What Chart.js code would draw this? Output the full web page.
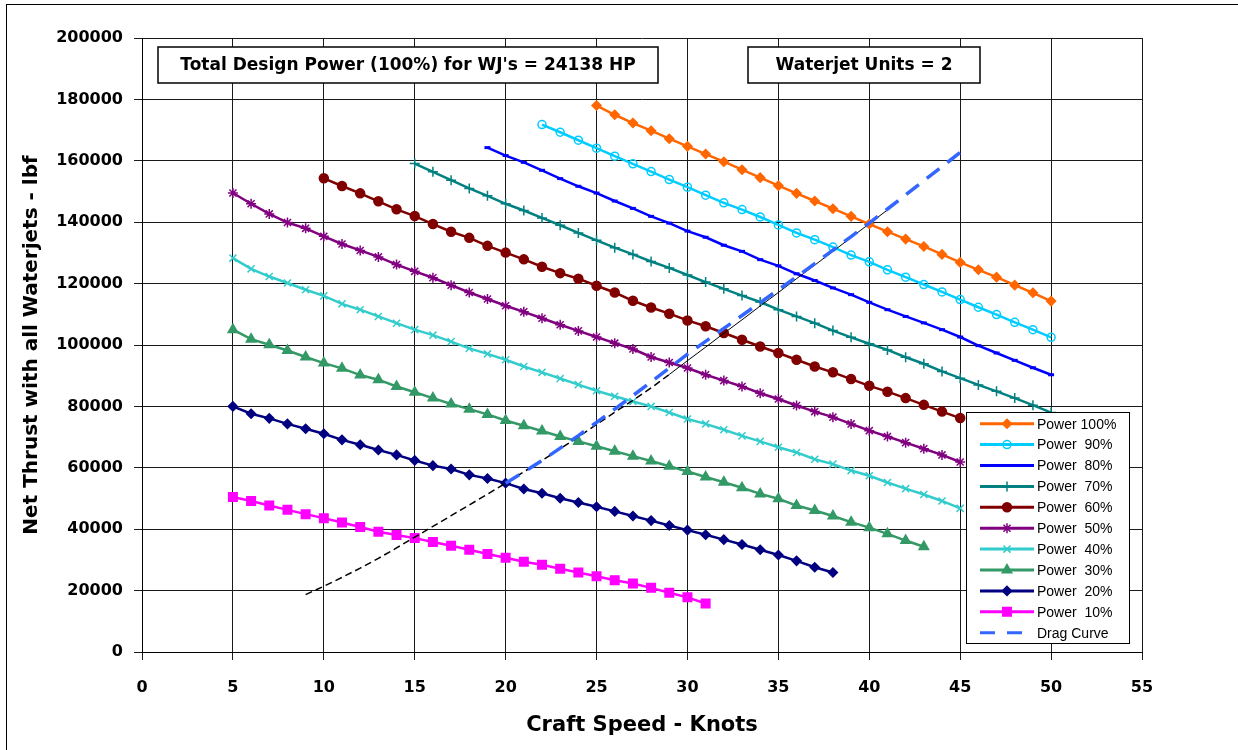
<!DOCTYPE html>
<html>
<head>
<meta charset="utf-8">
<script src="https://cdn.jsdelivr.net/npm/chart.js@4.4.1/dist/chart.umd.min.js"></script>
<style>
  html, body { margin: 0; padding: 0; background: #fff; }
  #wrap { position: relative; width: 1238px; height: 750px; }
</style>
</head>
<body>
<div id="wrap"><canvas id="grafico" width="1238" height="750"></canvas></div>
<script>
// Thrust (lbf) per knot, each series starts at its first speed
const p100Start = 25;
const p100 = [178000, 175000, 172300, 169800, 167200, 164700, 162200, 159700, 157100, 154500,
  151900, 149400, 146900, 144400, 141900, 139400, 136900, 134500, 132100, 129500,
  126900, 124500, 122100, 119500, 117000, 114300];

const p90Start = 22;
const p90 = [171800, 169300, 166700, 164100, 161500, 159000, 156500, 153900, 151400, 148800,
  146300, 144100, 141700, 139100, 136500, 134300, 131900, 129300, 127100, 124500,
  122100, 119700, 117300, 114800, 112300, 109900, 107400, 105000, 102500];

const p80Start = 19;
const p80 = [164300, 161700, 159500, 156900, 154200, 151700, 149500, 146900, 144500, 141900,
  139700, 137100, 135100, 132500, 130500, 127800, 125800, 123200, 121000, 118600,
  116400, 113900, 111500, 109300, 107200, 105000, 102600, 99800, 97400, 95000,
  92600, 90300];

const p70Start = 15;
const p70 = [159100, 156400, 153700, 151000, 148600, 146000, 143800, 141400, 139000, 136500,
  134100, 131700, 129500, 127200, 125100, 122800, 120500, 118300, 116100, 114000,
  111500, 109300, 107100, 104700, 102500, 100400, 98400, 96000, 93900, 91400,
  89200, 87000, 84900, 82700, 80400, 78000];

const p60Start = 10;
const p60 = [154300, 151800, 149400, 146800, 144200, 142000, 139400, 136900, 134900, 132300,
  130100, 127900, 125500, 123400, 121600, 119300, 117100, 114400, 112200, 110200,
  108000, 106100, 103900, 101700, 99500, 97400, 95200, 93000, 91100, 88900,
  86700, 84800, 82700, 80500, 78300, 76200];

const p50Start = 5;
const p50 = [149500, 146000, 142700, 139900, 138000, 135400, 132900, 130800, 128700, 126200,
  124000, 121900, 119500, 117100, 115000, 112800, 110800, 108700, 106600, 104600,
  102600, 100600, 98700, 96100, 94300, 92500, 90300, 88400, 86500, 84300,
  82400, 80300, 78300, 76500, 74300, 72100, 70200, 68200, 66200, 64200, 61900];

const p40Start = 5;
const p40 = [128300, 124800, 122300, 120200, 118000, 116000, 113400, 111500, 109300, 107100,
  105000, 103200, 101100, 98900, 97100, 95200, 93000, 91100, 89100, 87100,
  85100, 83300, 81600, 80000, 78000, 75900, 74300, 72400, 70400, 68600,
  66700, 65000, 62800, 61200, 59100, 57400, 55200, 53200, 51300, 49200, 46800];

const p30Start = 5;
const p30 = [105000, 101900, 100100, 98200, 96100, 94100, 92400, 90200, 88700, 86500,
  84600, 82700, 80800, 79100, 77400, 75400, 73700, 72000, 70200, 68600,
  67000, 65400, 63800, 62200, 60500, 58800, 57000, 55300, 53500, 51500,
  49900, 47700, 46100, 44300, 42300, 40500, 38500, 36300, 34300];

const p20Start = 5;
const p20 = [80000, 77600, 76100, 74300, 72700, 71100, 69100, 67500, 65800, 64200,
  62400, 60700, 59600, 57700, 56500, 55000, 53100, 51700, 50100, 48700,
  47300, 45800, 44300, 42800, 41200, 39700, 38200, 36600, 35000, 33300,
  31600, 29700, 27600, 25900];

const p10Start = 5;
const p10 = [50500, 49200, 47700, 46300, 44900, 43600, 42200, 40700, 39200, 38100,
  37100, 35800, 34600, 33300, 31900, 30700, 29400, 28400, 27100, 25900,
  24700, 23400, 22300, 20900, 19300, 17800, 15800];

const dragStart = 20;
const drag = [55000, 58600, 62400, 66400, 70500, 74800, 79100, 83500, 88000, 92500,
  97000, 101200, 105400, 109600, 113800, 118000, 122200, 126500, 130900, 135300,
  139700, 144300, 148900, 153500, 158100, 162700];

// black resistance line: dashed lower part, thin solid upper part
const resistStart = 9;
const resist = [18700, 21400, 24300, 27300, 30500, 33900, 37400, 40900, 44400, 47900,
  51400, 55000, 58700, 62400, 66200, 70100, 74100, 78100, 82000, 86000, 90400];
const resistUpStart = 29;
const resistUp = [90400, 94900, 99300, 103800, 108200, 112700, 117100, 121600, 126000,
  130500, 135000, 139500, 144000];

const xTicks = { min: 0, max: 55, step: 5 };
const yTicks = { min: 0, max: 200000, step: 20000 };

const txtPower = "Total Design Power (100%) for WJ's = 24138 HP";
const txtUnits = 'Waterjet Units = 2';

const fonteNegrito = 'DejaVu Sans';

function pontos(start, values) {
  return values.map((v, i) => ({ x: start + i, y: v }));
}

function serie(label, start, values, cor, estilo, raio, extra) {
  return Object.assign({
    label: label,
    data: pontos(start, values),
    borderColor: cor,
    backgroundColor: cor,
    borderWidth: 2.5,
    pointStyle: estilo,
    pointRadius: raio,
    pointBorderWidth: 1.5,
    pointBackgroundColor: cor,
    pointBorderColor: cor,
    tension: 0,
    order: 2,
    legenda: true
  }, extra || {});
}

const datasets = [
  serie('Power 100%', p100Start, p100, '#FF6600', 'rectRot', 4.5),
  serie('Power  90%', p90Start, p90, '#00CCFF', 'circle', 4, { pointBackgroundColor: 'rgba(0,0,0,0)' }),
  serie('Power  80%', p80Start, p80, '#0000FF', 'line', 3, { pointBorderWidth: 3 }),
  serie('Power  70%', p70Start, p70, '#008080', 'cross', 5),
  serie('Power  60%', p60Start, p60, '#800000', 'circle', 4.5),
  serie('Power  50%', p50Start, p50, '#800080', 'star', 5),
  serie('Power  40%', p40Start, p40, '#33CCCC', 'crossRot', 5),
  serie('Power  30%', p30Start, p30, '#339966', 'triangle', 5.5),
  serie('Power  20%', p20Start, p20, '#000080', 'rectRot', 4.5),
  serie('Power  10%', p10Start, p10, '#FF00FF', 'rect', 6),
  serie('Drag Curve', dragStart, drag, '#3366FF', 'circle', 0, { borderWidth: 3.5, borderDash: [16, 10], order: 0 }),
  serie('_resist', resistStart, resist, '#000000', 'circle', 0, { borderWidth: 1.5, borderDash: [7, 4], order: 1, legenda: false }),
  serie('_resistUp', resistUpStart, resistUp, '#000000', 'circle', 0, { borderWidth: 1, order: 1, legenda: false })
];

// text boxes, legend box and outer frame
const quadros = {
  id: 'quadros',
  beforeDraw(chart) {
    const ctx = chart.ctx;
    ctx.save();
    ctx.fillStyle = '#fff';
    ctx.fillRect(0, 0, chart.width, chart.height);
    ctx.restore();
  },
  afterDraw(chart) {
    const ctx = chart.ctx;
    ctx.save();
    ctx.strokeStyle = '#000';
    ctx.lineWidth = 1;
    ctx.strokeRect(6.5, 4.5, 1400, 900);

    caixa(ctx, 158, 47, 500, 36, txtPower);
    caixa(ctx, 748, 47, 232, 36, txtUnits);

    // legenda
    const lx = 966, ly = 412, lw = 163, lh = 231;
    ctx.fillStyle = '#fff';
    ctx.fillRect(lx, ly, lw, lh);
    ctx.strokeStyle = '#000';
    ctx.lineWidth = 1;
    ctx.strokeRect(lx + 0.5, ly + 0.5, lw, lh);

    const itens = chart.data.datasets.filter(d => d.legenda);
    itens.forEach((d, i) => {
      const y = 423.7 + i * 20.9;
      ctx.save();
      ctx.strokeStyle = d.borderColor;
      ctx.lineWidth = 3;
      if (d.borderDash) {
        ctx.setLineDash([15, 12]);
      }
      ctx.beginPath();
      ctx.moveTo(980, y);
      ctx.lineTo(1034, y);
      ctx.stroke();
      ctx.setLineDash([]);
      if (d.pointRadius > 0 && Chart.helpers && Chart.helpers.drawPoint) {
        ctx.fillStyle = d.pointBackgroundColor;
        ctx.strokeStyle = d.pointBorderColor;
        ctx.lineWidth = d.pointBorderWidth;
        Chart.helpers.drawPoint(ctx, {
          pointStyle: d.pointStyle,
          radius: d.pointRadius,
          borderWidth: d.pointBorderWidth,
          rotation: 0
        }, 1007, y);
      }
      ctx.restore();
      ctx.fillStyle = '#000';
      ctx.font = '14px "Liberation Sans", Arial, sans-serif';
      ctx.textBaseline = 'middle';
      ctx.textAlign = 'left';
      ctx.fillText(d.label, 1037, y + 1);
    });
    ctx.restore();
  }
};

function caixa(ctx, x, y, w, h, texto) {
  ctx.fillStyle = '#fff';
  ctx.fillRect(x, y, w, h);
  ctx.strokeStyle = '#000';
  ctx.lineWidth = 1.5;
  ctx.strokeRect(x, y, w, h);
  ctx.fillStyle = '#000';
  ctx.font = 'bold 17px "' + fonteNegrito + '"';
  ctx.textAlign = 'center';
  ctx.textBaseline = 'middle';
  ctx.fillText(texto, x + w / 2, y + h / 2 + 1);
}

const fonteTick = { family: fonteNegrito, size: 16, weight: 'bold' };

new Chart(document.getElementById('grafico').getContext('2d'), {
  type: 'line',
  data: { datasets: datasets },
  options: {
    responsive: false,
    animation: false,
    events: [],
    layout: { padding: { top: 38, right: 96, left: 0, bottom: 0 } },
    plugins: {
      legend: { display: false },
      tooltip: { enabled: false }
    },
    scales: {
      x: {
        type: 'linear',
        min: xTicks.min,
        max: xTicks.max,
        ticks: { stepSize: xTicks.step, font: fonteTick, color: '#000', padding: 18, maxRotation: 0 },
        grid: { color: '#1a1a1a', lineWidth: 1, tickLength: 8 },
        border: { color: '#000', width: 1 },
        title: {
          display: true,
          text: 'Craft Speed - Knots',
          color: '#000',
          font: { family: fonteNegrito, size: 21, weight: 'bold' },
          padding: { top: 0, bottom: 12 }
        },
        afterFit: s => { s.height = 98; }
      },
      y: {
        type: 'linear',
        min: yTicks.min,
        max: yTicks.max,
        ticks: { stepSize: yTicks.step, font: fonteTick, color: '#000', padding: 11, callback: v => v },
        grid: { color: '#1a1a1a', lineWidth: 1, tickLength: 8 },
        border: { color: '#000', width: 1 },
        title: {
          display: true,
          text: 'Net Thrust with all Waterjets - lbf',
          color: '#000',
          font: { family: fonteNegrito, size: 20, weight: 'bold' },
          padding: { top: 20, bottom: 0 }
        },
        afterFit: s => { s.width = 142; }
      }
    }
  },
  plugins: [quadros]
});
</script>
</body>
</html>
